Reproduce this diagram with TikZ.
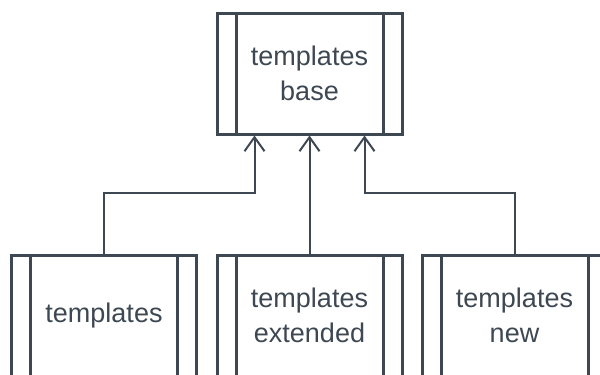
\documentclass[tikz,border=0pt]{standalone}
\usepackage{fontspec}
\setmainfont{Liberation Sans}
\usetikzlibrary{arrows.meta}
\definecolor{slate}{HTML}{3E4852}
\tikzset{
  module/.style={draw=slate, line width=1.5pt, fill=white,
    minimum width=92.5pt, minimum height=60.5pt, inner sep=0pt,
    align=center, text=slate, font=\fontsize{13.5}{17.5}\selectfont,
    path picture={
      \draw[slate, line width=1.5pt]
        ([xshift=9.5pt]path picture bounding box.north west) -- ([xshift=9.5pt]path picture bounding box.south west)
        ([xshift=-9.5pt]path picture bounding box.north east) -- ([xshift=-9.5pt]path picture bounding box.south east);}},
  inherit/.style={draw=slate, line width=1pt, -{Straight Barb[length=7pt,width=10pt]}}
}
\begin{document}
\begin{tikzpicture}[x=0.5pt, y=-0.5pt]
  \useasboundingbox (0,0) rectangle (600,375);
  % modules
  \node[module] (base) at (309.5,73.5) {templates\\base};
  \node[module] (tpl) at (104,315.5) {templates};
  \node[module] (tplext) at (309.5,315.5) {templates\\extended};
  \node[module] (tplnew) at (514.5,315.5) {templates\\new};
  % inheritance
  \coordinate (inL) at ([xshift=-27.5pt]base.south);
  \coordinate (inR) at ([xshift=27.5pt]base.south);
  \draw[inherit] (tpl.north) -- ++(0,-61) -| (inL);
  \draw[inherit] (tplext.north) -- (base.south);
  \draw[inherit] (tplnew.north) -- ++(0,-61) -| (inR);
\end{tikzpicture}
\end{document}
